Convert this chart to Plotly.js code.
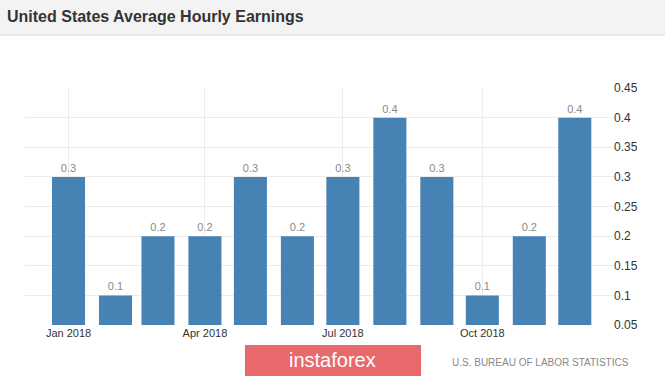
<!DOCTYPE html>
<html>
<head>
<meta charset="utf-8">
<script src="https://cdn.plot.ly/plotly-3.0.1.min.js"></script>
<style>
html,body{margin:0;padding:0;background:#fff;}
#chart{width:665px;height:376px;}
</style>
</head>
<body>
<div id="chart"></div>
<script>
var months = ['2018-01-01','2018-02-01','2018-03-01','2018-04-01','2018-05-01','2018-06-01',
              '2018-07-01','2018-08-01','2018-09-01','2018-10-01','2018-11-01','2018-12-01'];
var earnings = [0.3, 0.1, 0.2, 0.2, 0.3, 0.2, 0.3, 0.4, 0.3, 0.1, 0.2, 0.4];
var labels = ['0.3','0.1','0.2','0.2','0.3','0.2','0.3','0.4','0.3','0.1','0.2','0.4'];
var xTickVals = ['2018-01-01','2018-04-01','2018-07-01','2018-10-01'];
var xTickText = ['Jan 2018','Apr 2018','Jul 2018','Oct 2018'];
var yTickVals = [0.05,0.1,0.15,0.2,0.25,0.3,0.35,0.4,0.45];
var yTickText = ['0.05','0.1','0.15','0.2','0.25','0.3','0.35','0.4','0.45'];

var DAY = 86400000;
var trace = {
  type: 'bar',
  x: months,
  y: earnings,
  text: labels,
  textposition: 'outside',
  cliponaxis: false,
  textfont: {family: 'Arial, Liberation Sans, sans-serif', size: 11, color: '#8a8a8a'},
  marker: {color: '#4682B4'},
  width: 21.8 * DAY,
  hoverinfo: 'none'
};

var layout = {
  width: 665, height: 376,
  margin: {l: 25, r: 52, t: 88, b: 51},
  paper_bgcolor: '#ffffff',
  plot_bgcolor: '#ffffff',
  showlegend: false,
  font: {family: 'Arial, Liberation Sans, sans-serif', color: '#333'},
  xaxis: {
    type: 'date',
    range: ['2017-12-03 07:00', '2018-12-26 05:00'],
    tickmode: 'array', tickvals: xTickVals, ticktext: xTickText,
    showgrid: true, gridcolor: '#ececec', gridwidth: 1,
    zeroline: false, showline: false, ticks: '',
    tickfont: {size: 11, color: '#333'}
  },
  yaxis: {
    side: 'right',
    range: [0.05, 0.45],
    tickmode: 'array', tickvals: yTickVals, ticktext: yTickText,
    showgrid: true, gridcolor: '#ececec', gridwidth: 1,
    zeroline: false, showline: false, ticks: '',
    tickfont: {size: 12, color: '#333'}
  },
  shapes: [
    {type: 'rect', xref: 'paper', yref: 'paper', x0: -0.0425, x1: 1.0884, y0: 1.2236, y1: 1.3713,
     fillcolor: '#f3f3f3', line: {width: 0}, layer: 'below'},
    {type: 'line', xref: 'paper', yref: 'paper', x0: -0.0425, x1: 1.0884, y0: 1.2236, y1: 1.2236,
     line: {color: '#dcdcdc', width: 1}},
    {type: 'rect', xref: 'paper', yref: 'paper', x0: 0.3741, x1: 0.6735, y0: -0.2152, y1: -0.0844,
     fillcolor: '#e8696b', line: {width: 0}}
  ],
  annotations: [
    {text: '<b>United States Average Hourly Earnings</b>', xref: 'paper', yref: 'paper',
     x: -0.034, y: 1.2996, xanchor: 'left', yanchor: 'middle', showarrow: false,
     font: {size: 16, color: '#333', family: 'Arial, Liberation Sans, sans-serif'}},
    {text: 'instaforex', xref: 'paper', yref: 'paper', x: 0.5238, y: -0.1477,
     xanchor: 'center', yanchor: 'middle', showarrow: false,
     font: {size: 20, color: '#ffffff', family: 'Arial, Liberation Sans, sans-serif'}},
    {text: 'U.S. BUREAU OF LABOR STATISTICS', xref: 'paper', yref: 'paper', x: 1.0306, y: -0.1603,
     xanchor: 'right', yanchor: 'middle', showarrow: false,
     font: {size: 10, color: '#888', family: 'Arial, Liberation Sans, sans-serif'}}
  ]
};

Plotly.newPlot('chart', [trace], layout, {displayModeBar: false, staticPlot: true});
</script>
</body>
</html>
